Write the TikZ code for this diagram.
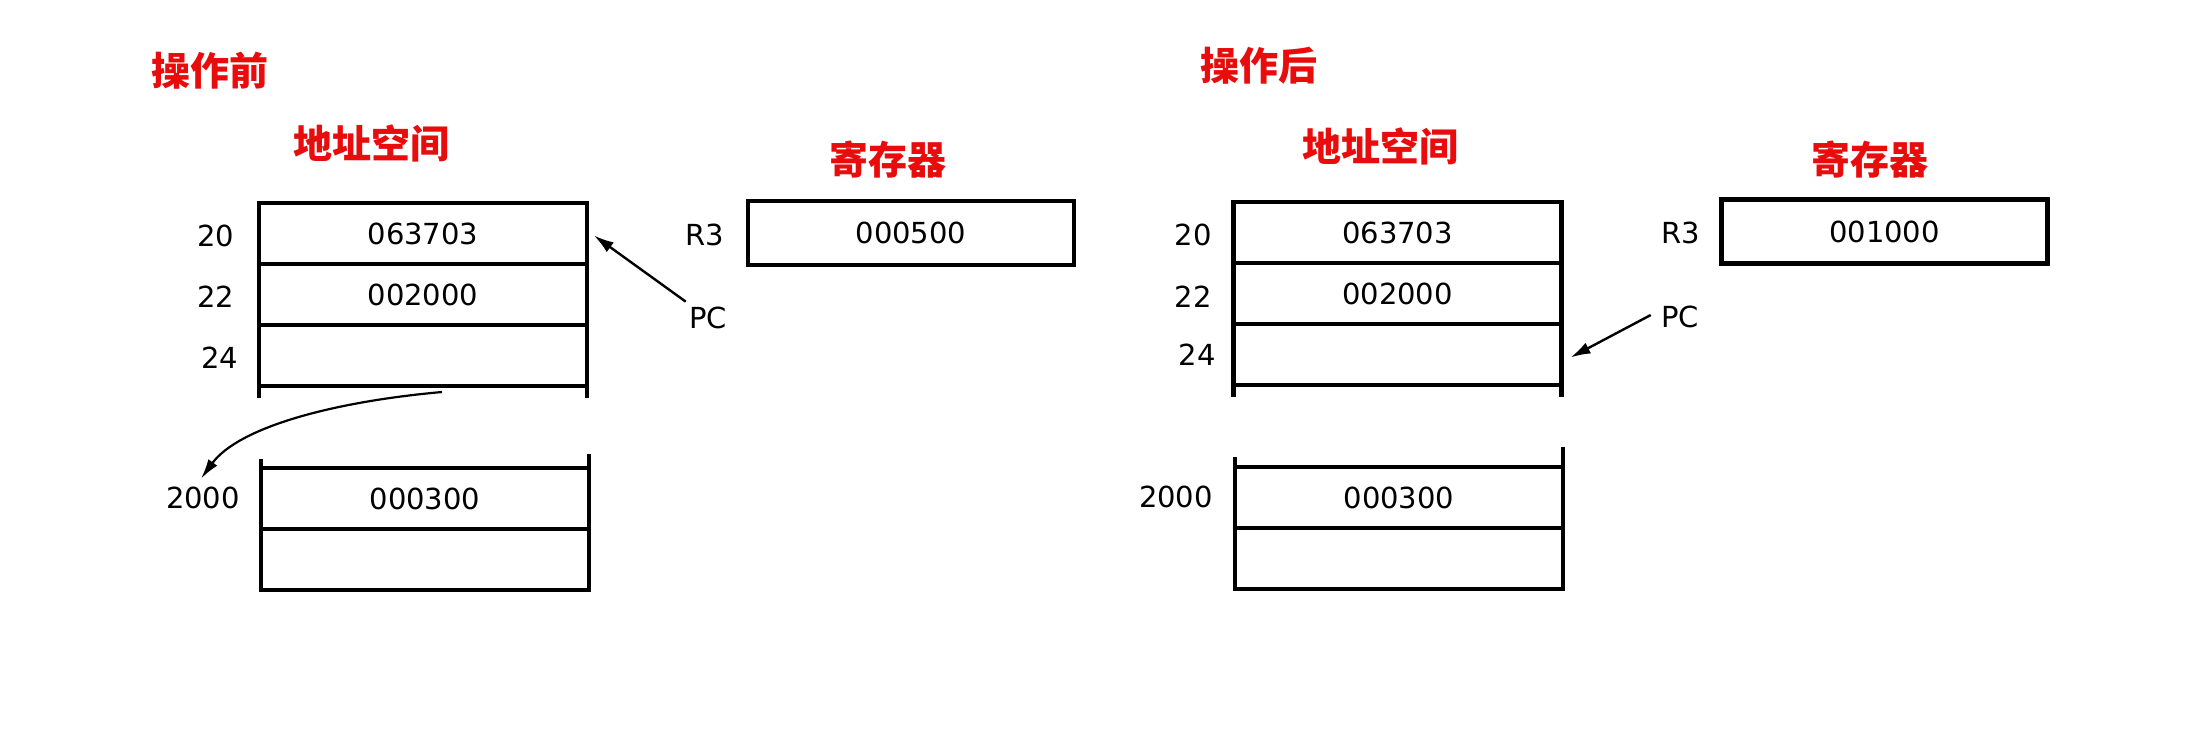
\documentclass[tikz,border=0pt]{standalone}
\usepackage{fontspec}
\setmainfont{DejaVu Sans}
\newfontfamily\cjk{Noto Sans CJK SC}
\usetikzlibrary{arrows.meta,calc}
\definecolor{titlered}{RGB}{232,12,12}
\begin{document}
\begin{tikzpicture}[x=0.5pt,y=-0.5pt,
  cell/.style={draw, line width=2.2pt, outer sep=0pt, minimum width=164pt, minimum height=30.5pt, inner sep=0pt, font=\fontsize{14.5}{14.5}\selectfont},
  regbox/.style={cell, minimum width=163pt, minimum height=32pt},
  lab/.style={inner sep=0pt, font=\fontsize{14.5}{14.5}\selectfont},
  title/.style={inner sep=0pt, text=titlered, font=\cjk\bfseries\fontsize{19.5}{19.5}\selectfont},
  side/.style={line width=2.2pt},
  ptr/.style={line width=1.2pt, -{Latex[length=10pt,width=6pt]}},
  curvptr/.style={line width=1.1pt, -{Latex[length=10pt,width=5.5pt]}}
]
\useasboundingbox (0,0) rectangle (2202,730);

% ---------------- before ----------------
\node[title] (tBefore) at (210,71) {操作前};
\node[title] (tAddrL) at (371,143) {地址空间};
\node[title] (tRegL) at (888,160) {寄存器};

\node[cell] (L20) at (423,233.5) {063703};
\node[cell] (L22) at (423,294.5) {002000};
\node[cell] (L24) at (423,355.5) {};
\draw[side] (L24.south west) -- ++(0,12);
\draw[side] (L24.south east) -- ++(0,12);

\node[cell] (L2000) at (425,498.5) {000300};
\node[cell] (L2002) at (425,559.5) {};
\draw[side] (L2000.north west) -- ++(0,-9);
\draw[side] (L2000.north east) -- ++(0,-14);

\node[lab] (lL20) at (216,236) {20};
\node[lab] (lL22) at (216,297) {22};
\node[lab] (lL24) at (220,358) {24};
\node[lab] (lL2000) at (203,498) {2000};

\node[regbox] (RL) at (911,233) {000500};
\node[lab] (rlL) at (705,235) {R3};
\node[lab] (pcL) at (708,318) {PC};

\draw[ptr] ($(pcL.north west)+(-3,-5)$) -- ($(L20.east)+(7,2)$);
\draw[curvptr] ($(L24.south)+(19,6)$) .. controls (330,402) and (238,428) .. ($(lL2000.north)+(-2,-8)$);

% ---------------- after ----------------
\node[title] (tAfter) at (1259,66) {操作后};
\node[title] (tAddrR) at (1380,146) {地址空间};
\node[title] (tRegR) at (1870,160) {寄存器};

\node[cell] (R20) at (1397.5,232.5) {063703};
\node[cell] (R22) at (1397.5,293.5) {002000};
\node[cell] (R24) at (1397.5,354.5) {};
\draw[side] (R24.south west) -- ++(0,12);
\draw[side] (R24.south east) -- ++(0,12);

\node[cell] (R2000) at (1399,497.5) {000300};
\node[cell] (R2002) at (1399,558.5) {};
\draw[side] (R2000.north west) -- ++(0,-10);
\draw[side] (R2000.north east) -- ++(0,-20);

\node[lab] (lR20) at (1193,235) {20};
\node[lab] (lR22) at (1193,297) {22};
\node[lab] (lR24) at (1197,355) {24};
\node[lab] (lR2000) at (1176,497) {2000};

\node[regbox] (RR) at (1884.5,231.5) {001000};
\node[lab] (rlR) at (1681,233) {R3};
\node[lab] (pcR) at (1680,317) {PC};

\draw[ptr] ($(pcR.west)+(-10,-2)$) -- ($(R24.east)+(9,3)$);
\end{tikzpicture}
\end{document}
